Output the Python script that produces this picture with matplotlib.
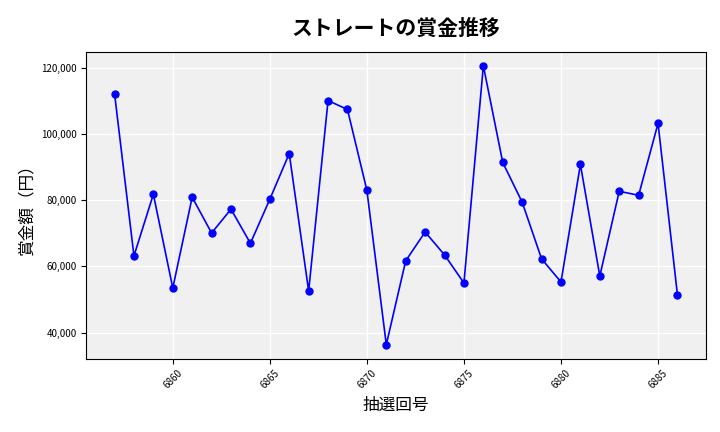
import matplotlib.pyplot as plt
from matplotlib.ticker import FuncFormatter

plt.rcParams['font.family'] = ['Noto Sans CJK JP', 'DejaVu Sans']

draws = list(range(6857, 6887))
prizes = [112200, 63200, 81800, 53500, 80900, 70100, 77300, 67000, 80300, 94100,
          52600, 110100, 107400, 83000, 36400, 61700, 70400, 63500, 55000, 120600,
          91400, 79400, 62300, 55300, 90800, 57100, 82700, 81500, 103200, 51400]

fig, ax = plt.subplots(figsize=(7.2, 4.32), dpi=100)
fig.subplots_adjust(left=0.12, right=0.98, top=0.88, bottom=0.17)
ax.set_facecolor('#f0f0f0')
ax.grid(True, color='white', linewidth=1)
ax.set_axisbelow(True)

ax.plot(draws, prizes, color='blue', marker='o', markersize=5, linewidth=1.2)

ax.set_title('ストレートの賞金推移', fontsize=15, fontweight='bold', pad=12)
ax.set_xlabel('抽選回号', fontsize=12)
ax.set_ylabel('賞金額（円）', fontsize=12)
ax.yaxis.set_major_formatter(FuncFormatter(lambda v, p: f'{int(v):,}'))
ax.set_xticks(range(6860, 6890, 5))
ax.tick_params(axis='x', labelrotation=45, labelsize=7)
ax.tick_params(axis='y', labelsize=7)

plt.savefig('out.png', dpi=100)
